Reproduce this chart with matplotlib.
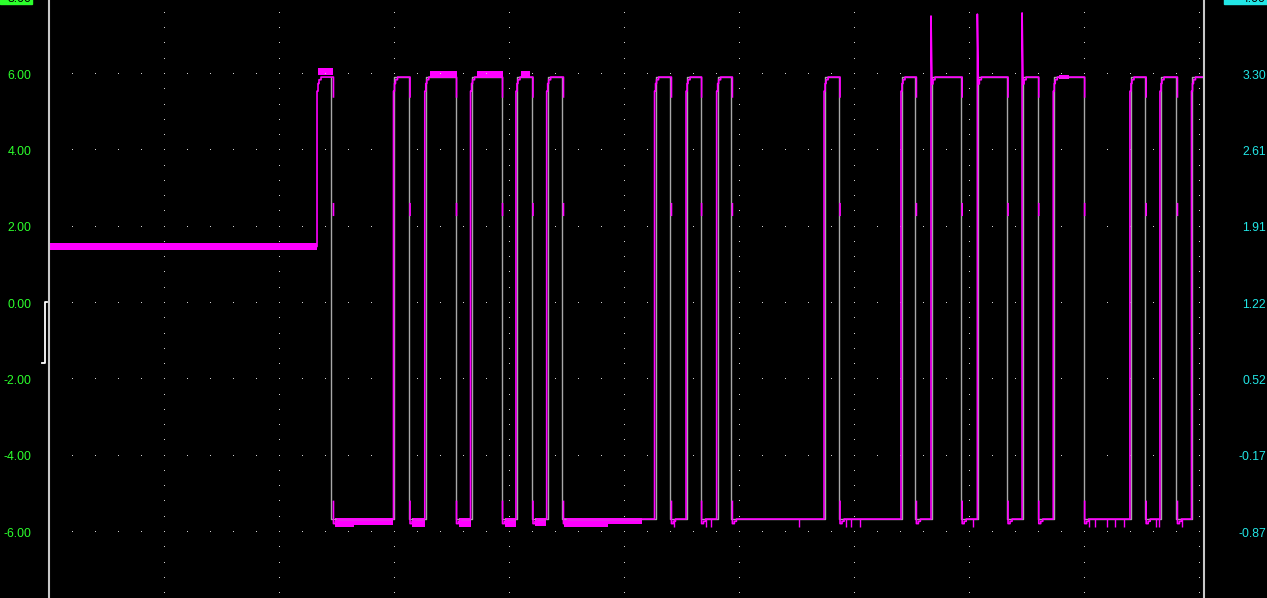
import numpy as np
import matplotlib.pyplot as plt
from matplotlib.patches import Rectangle

# time in screen divisions, left scale in volts
rise_t = [2.328, 2.993, 3.265, 3.663, 4.058, 4.325, 5.263, 5.537, 5.803, 6.737,
          7.406, 7.667, 8.070, 8.459, 8.730, 9.397, 9.658, 9.932]
fall_t = [2.471, 3.137, 3.541, 3.941, 4.206, 4.471, 5.410, 5.672, 5.940, 6.876,
          7.540, 7.938, 8.337, 8.604, 9.003, 9.538, 9.810, 10.20]
idle_level = 1.48
high_level = 5.92
low_level = -5.66
spike_peak = {11: 7.52, 12: 7.57, 13: 7.60}

# noisy stretches of the magenta trace: start, end, min, max
idle_band = (0.0, 2.328, 1.40, 1.58)
noise_bands = [
    (2.337, 2.471, 5.97, 6.16),
    (3.310, 3.541, 5.90, 6.08),
    (3.720, 3.941, 5.90, 6.08),
    (4.100, 4.180, 5.90, 6.08),
    (8.776, 8.863, 5.87, 5.97),
    (2.480, 2.650, -5.87, -5.64),
    (2.650, 2.993, -5.82, -5.64),
    (3.150, 3.265, -5.87, -5.64),
    (3.560, 3.663, -5.87, -5.64),
    (3.960, 4.058, -5.87, -5.64),
    (4.220, 4.320, -5.84, -5.64),
    (4.480, 4.860, -5.87, -5.64),
    (4.860, 5.150, -5.80, -5.64),
]
# short downward glitches on the low level
glitch_t = [5.432, 5.711, 5.754, 6.519, 6.928, 6.971, 7.049, 8.032, 9.041,
            9.093, 9.197, 9.266, 9.345, 9.623, 9.650, 9.850]
glitch_depth = -5.87

left_ticks = [-6, -4, -2, 0, 2, 4, 6]
right_labels = ['-0.87', '-0.17', '0.52', '1.22', '1.91', '2.61', '3.30']

W, H = 1267, 598
fig = plt.figure(figsize=(W / 100, H / 100), dpi=100, facecolor='black')
x_left, x_right, div_px = 49.3, 1204, 115.0
ax = fig.add_axes([x_left / W, 0, (x_right - x_left) / W, 1])
ax.set_facecolor('black')
ax.set_xlim(0, (x_right - x_left) / div_px)
ax.set_ylim(-7.729, 7.939)

px = 1 / div_px

# grid dots
gx = np.arange(0, 10.05, 0.2)
for v in left_ticks:
    ax.plot(gx, np.full(len(gx), v), ',', color='#d0d0d0')
gy = np.arange(-7.6, 7.7, 0.4)
for d in range(11):
    ax.plot(np.full(len(gy), d), gy, ',', color='#d0d0d0')

# gray logic trace
edges = [fall_t[0] - 2 * px]
for r, f in zip(rise_t[1:], fall_t[1:]):
    edges += [r + px, f - px]
gxs, gys = [edges[0]], [high_level]
lvl = high_level
for e in edges:
    gxs += [e, e]
    nxt = low_level if lvl == high_level else high_level
    gys += [lvl, nxt]
    lvl = nxt
gxs.append(11)
gys.append(lvl)
ax.plot(gxs, gys, color='#a8a8a8', lw=1.0)

# magenta analog trace
mx, my = [0.0], [idle_level]
prev = idle_level
for i, (r, f) in enumerate(zip(rise_t, fall_t)):
    if i in spike_peak:
        mx += [r, r, r + px, r + 2 * px, r + 2 * px, r + 4 * px, r + 4 * px]
        my += [prev, spike_peak[i], 5.74, 5.74, 5.85, 5.85, high_level]
    else:
        mx += [r, r, r + px, r + px, r + 2 * px, r + 2 * px, r + 4 * px, r + 4 * px]
        my += [prev, 5.55, 5.55, 5.75, 5.75, 5.85, 5.85, high_level]
    mx += [f, f, np.nan, f, f, np.nan, f, f, f + 2 * px, f + 2 * px, f + 4 * px, f + 4 * px]
    my += [high_level, 5.40, np.nan, 2.60, 2.30, np.nan, -5.20, -5.78, -5.78, -5.72, -5.72, low_level]
    prev = low_level
ax.plot(mx, my, color='#ff00ff', lw=1.2)

x0, x1, lo, hi = idle_band
ax.fill_between([x0, x1], lo, hi, color='#ff00ff', lw=0)
for x0, x1, lo, hi in noise_bands:
    ax.fill_between([x0, x1], lo, hi, color='#ff00ff', lw=0)
ax.vlines(glitch_t, glitch_depth, low_level, color='#ff00ff', lw=1.0)

# ground / trigger marker
ax.plot([-0.019, -0.037, -0.037, -0.063], [0.03, 0.03, -1.57, -1.57],
        color='white', lw=1.3, clip_on=False)

for s in ['top', 'bottom']:
    ax.spines[s].set_visible(False)
for s in ['left', 'right']:
    ax.spines[s].set_color('#c8c8c8')
    ax.spines[s].set_linewidth(1.5)
ax.set_xticks([])
ax.set_yticks(left_ticks)
ax.set_yticklabels(['%.2f' % v for v in left_ticks])
ax.tick_params(axis='y', length=0, pad=13, labelcolor='#2cff2c', labelsize=8.8)
for lab in ax.get_yticklabels():
    lab.set_fontfamily('Liberation Sans')

ax2 = ax.twinx()
ax2.set_ylim(ax.get_ylim())
ax2.set_yticks(left_ticks)
ax2.set_yticklabels(right_labels)
ax2.tick_params(axis='y', length=0, pad=44.6, labelcolor='#22e6e6', labelsize=8.8)
for lab in ax2.get_yticklabels():
    lab.set_fontfamily('Liberation Sans')
    lab.set_ha('right')
for s in ax2.spines.values():
    s.set_visible(False)

# scale readout boxes cut off at the top edge
fig.patches.append(Rectangle((0, 1 - 3.7 / H), 32 / W, 0.1, transform=fig.transFigure,
                             color='#2cff2c'))
fig.text(31 / W, 1 - 1.5 / H, '8.00', ha='right', va='baseline', color='black',
         fontsize=8.8, family='Liberation Sans')
fig.patches.append(Rectangle((1224 / W, 1 - 4 / H), 43 / W, 0.1, transform=fig.transFigure,
                             color='#22e6e6'))
fig.text(1266 / W, 1 - 1.5 / H, '4.00', ha='right', va='baseline', color='black',
         fontsize=8.8, family='Liberation Sans')

fig.savefig('out.png', dpi=100, facecolor='black')
